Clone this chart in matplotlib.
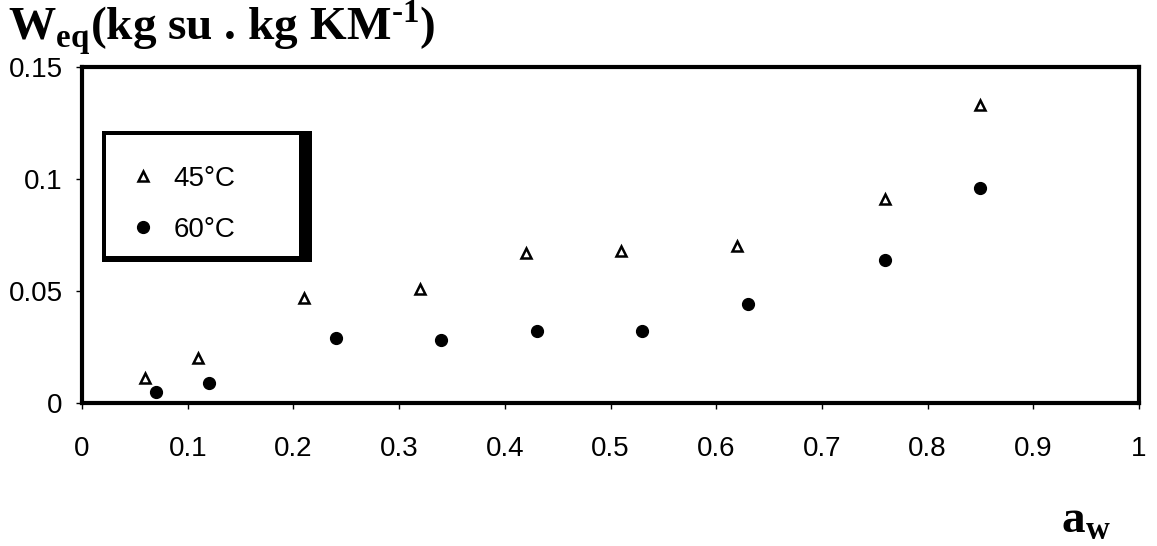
import matplotlib
matplotlib.use("Agg")
import matplotlib.pyplot as plt
from matplotlib.patches import Rectangle
from matplotlib.lines import Line2D

# Data
aw_45 = [0.06, 0.11, 0.21, 0.32, 0.42, 0.51, 0.62, 0.76, 0.85]
w_45 = [0.011, 0.020, 0.047, 0.051, 0.067, 0.068, 0.070, 0.091, 0.133]
aw_60 = [0.07, 0.12, 0.24, 0.34, 0.43, 0.53, 0.63, 0.76, 0.85]
w_60 = [0.005, 0.009, 0.029, 0.028, 0.032, 0.032, 0.044, 0.064, 0.096]
xticks = [0, 0.1, 0.2, 0.3, 0.4, 0.5, 0.6, 0.7, 0.8, 0.9, 1]
xticklabels = ["0", "0.1", "0.2", "0.3", "0.4", "0.5", "0.6", "0.7", "0.8", "0.9", "1"]
yticks = [0, 0.05, 0.1, 0.15]
yticklabels = ["0", "0.05", "0.1", "0.15"]
series_labels = ["45°C", "60°C"]

plt.rcParams['font.family'] = ['Liberation Sans', 'DejaVu Sans']
plt.rcParams['mathtext.fontset'] = 'custom'
plt.rcParams['mathtext.rm'] = 'Liberation Serif:bold'
plt.rcParams['mathtext.bf'] = 'Liberation Serif:bold'
plt.rcParams['axes.unicode_minus'] = False

W, H = 1157, 546
fig = plt.figure(figsize=(W / 100, H / 100), dpi=100)
ax = fig.add_axes([82 / W, 1 - 403 / H, (1139 - 82) / W, (403 - 67) / H])

ax.plot(aw_45, w_45, linestyle='none', marker='^', markersize=7.5,
        markerfacecolor='white', markeredgecolor='black', markeredgewidth=1.8)
ax.plot(aw_60, w_60, linestyle='none', marker='o', markersize=8.5,
        markerfacecolor='black', markeredgecolor='black')

ax.set_xlim(0, 1)
ax.set_ylim(0, 0.15)
ax.set_xticks(xticks)
ax.set_xticklabels(xticklabels)
ax.set_yticks(yticks)
ax.set_yticklabels(yticklabels)
for s in ax.spines.values():
    s.set_linewidth(3)
    s.set_color('black')
ax.tick_params(axis='x', direction='out', length=4, width=1, pad=20, labelsize=20)
ax.tick_params(axis='y', direction='out', length=4, width=1, pad=10, labelsize=20)

# Legend box with shadow (pixel coords)
def px_rect(x0, y0, x1, y1, **kw):
    return Rectangle((x0 / W, 1 - y1 / H), (x1 - x0) / W, (y1 - y0) / H,
                     transform=fig.transFigure, **kw)

fig.patches.append(px_rect(102, 131, 312, 262, facecolor='black', edgecolor='none', zorder=5))
fig.patches.append(px_rect(106, 135, 299, 256, facecolor='white', edgecolor='none', zorder=6))

handles = [
    Line2D([], [], linestyle='none', marker='^', markersize=7.5, markerfacecolor='white',
           markeredgecolor='black', markeredgewidth=1.8),
    Line2D([], [], linestyle='none', marker='o', markersize=8.5, markerfacecolor='black',
           markeredgecolor='black'),
]
leg = fig.legend(handles, series_labels, loc='upper left',
                 bbox_to_anchor=(118 / W, 1 - 155 / H), frameon=False,
                 fontsize=20, handlelength=1.0, handletextpad=0.6,
                 labelspacing=0.9, borderaxespad=0)
leg.set_zorder(10)

# Title and axis label
fig.text(8 / W, 1 - 40 / H, 'W$_{\\mathregular{eq}}$(kg su . kg KM$^{\\mathregular{\u2010 1}}$)'.replace('\u2010 ', '\u2010'),
         fontsize=34, fontweight='bold', family='Liberation Serif', va='baseline', ha='left')
fig.text(1061 / W, 1 - 532 / H, r'a$_{\mathregular{w}}$',
         fontsize=34, fontweight='bold', family='Liberation Serif', va='baseline', ha='left')

fig.savefig('out.png', dpi=100)
